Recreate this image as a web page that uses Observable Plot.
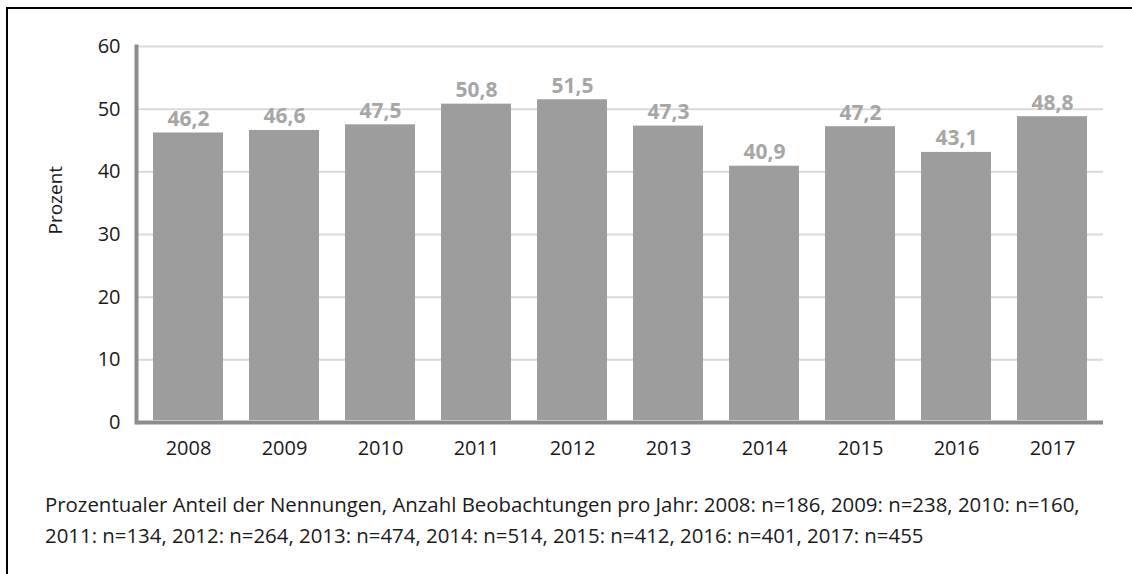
<!DOCTYPE html>
<html>
<head>
<meta charset="utf-8">
<script src="https://cdn.jsdelivr.net/npm/d3@7"></script>
<script src="https://cdn.jsdelivr.net/npm/@observablehq/plot@0.6"></script>
<style>
  html, body { margin: 0; padding: 0; background: #fff; }
  body { width: 1132px; height: 574px; position: relative; overflow: hidden; font-family: "Open Sans", sans-serif; }
  #frame { position: absolute; left: 6px; top: 7px; width: 1200px; height: 700px; border-top: 2px solid #000; border-left: 2px solid #000; }
  #chart { position: absolute; left: 0; top: 0; }
  #caption { position: absolute; left: 45px; top: 489px; font-size: 20.4px; line-height: 31px; color: #1a1a1a; white-space: nowrap; }
</style>
</head>
<body>
<div id="frame"></div>
<div id="chart"></div>
<div id="caption">Prozentualer Anteil der Nennungen, Anzahl Beobachtungen pro Jahr: 2008: n=186, 2009: n=238, 2010: n=160,<br>2011: n=134, 2012: n=264, 2013: n=474, 2014: n=514, 2015: n=412, 2016: n=401, 2017: n=455</div>
<script>
const years = ["2008","2009","2010","2011","2012","2013","2014","2015","2016","2017"];
const values = [46.2, 46.6, 47.5, 50.8, 51.5, 47.3, 40.9, 47.2, 43.1, 48.8];
const yTicks = [0, 10, 20, 30, 40, 50, 60];
const gridTicks = [10, 20, 30, 40, 50, 60];

const data = years.map((y, i) => ({year: y, value: values[i]}));
const fmt = v => v.toFixed(1).replace(".", ",");

const plot = Plot.plot({
  width: 1132,
  height: 470,
  marginLeft: 137,
  marginRight: 29,
  marginTop: 46,
  marginBottom: 48,
  style: {fontFamily: "Open Sans, sans-serif", fontSize: "20px", color: "#1a1a1a", background: "transparent"},
  x: {domain: years, paddingInner: 0.275, paddingOuter: 0.1375, label: null},
  y: {domain: [0, 60], label: null},
  marks: [
    Plot.ruleY(gridTicks, {stroke: "#d9d9d9", strokeWidth: 2}),
    Plot.barY(data, {x: "year", y: "value", fill: "#9d9d9d", insetBottom: 2}),
    Plot.text(data, {x: "year", y: "value", text: d => fmt(d.value), lineAnchor: "bottom", dy: -7, fill: "#a6a6a6", fontWeight: "bold", fontSize: 21}),
    Plot.ruleY([0], {stroke: "#8c8c8c", strokeWidth: 4}),
    Plot.frame({anchor: "left", stroke: "#8c8c8c", strokeWidth: 4, dx: -1}),
    Plot.axisY({ticks: yTicks, tickSize: 0, tickPadding: 17, tickFormat: d => d, fontSize: 20, label: null}),
    Plot.axisX({tickSize: 0, tickPadding: 18, fontSize: 20, label: null}),
    Plot.text(["Prozent"], {frameAnchor: "left", dx: -82, rotate: -90, fontSize: 19, fill: "#1a1a1a"})
  ]
});
document.getElementById("chart").appendChild(plot);
</script>
</body>
</html>
